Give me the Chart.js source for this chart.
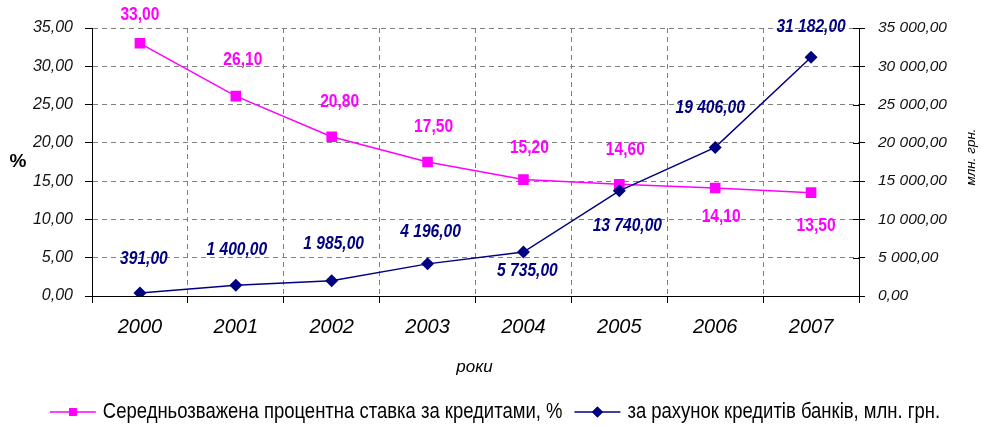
<!DOCTYPE html>
<html lang="uk">
<head>
<meta charset="UTF-8">
<title>Процентна ставка та кредити банків</title>
<script src="https://cdn.jsdelivr.net/npm/chart.js"></script>
<style>
  html, body { margin: 0; padding: 0; background: #fff; }
  #wrap { width: 981px; height: 427px; }
</style>
</head>
<body>
<div id="wrap"><canvas id="chart" width="981" height="427"></canvas></div>
<script>
// chart data
const years = ['2000', '2001', '2002', '2003', '2004', '2005', '2006', '2007'];
const rateValues = [33.0, 26.1, 20.8, 17.5, 15.2, 14.6, 14.1, 13.5];
const creditValues = [391, 1400, 1985, 4196, 5735, 13740, 19406, 31182];
const rateName = 'Середньозважена процентна ставка за кредитами, %';
const creditName = 'за рахунок кредитів банків, млн. грн.';

// where each value label sits relative to its point
const rateLabelShift = [[0, -29], [7, -36], [8, -35], [6, -35], [6, -32], [6, -34], [6, 29], [5, 33]];
const creditLabelShift = [[4, -34], [1, -36], [2, -37], [3, -32], [4, 19], [8, 35], [-5, -40], [0, -30]];

const MAGENTA = '#ff00ff';
const NAVY = '#000080';
const NARROW = 0.82;

function fmt(v) {
    const parts = Number(v).toFixed(2).split('.');
    return parts[0].replace(/\B(?=(\d{3})+(?!\d))/g, ' ') + ',' + parts[1];
}

function narrowText(ctx, text, x, y, font, color, align, sx) {
    ctx.save();
    ctx.font = font;
    ctx.fillStyle = color;
    ctx.textAlign = align || 'center';
    ctx.textBaseline = 'middle';
    ctx.translate(x, y);
    ctx.scale(sx || NARROW, 1);
    ctx.fillText(text, 0, 0);
    ctx.restore();
}

const extras = {
    id: 'extras',
    beforeDraw(chart) {
        const ctx = chart.ctx;
        ctx.save();
        ctx.fillStyle = '#fff';
        ctx.fillRect(0, 0, chart.width, chart.height);
        ctx.restore();
    },
    afterDatasetsDraw(chart) {
        const ctx = chart.ctx;
        // value labels
        chart.getDatasetMeta(1).data.forEach((pt, i) => {
            const s = rateLabelShift[i];
            narrowText(ctx, fmt(rateValues[i]), pt.x + s[0], pt.y + s[1], 'bold 19px "Liberation Sans", Arial', MAGENTA);
        });
        chart.getDatasetMeta(0).data.forEach((pt, i) => {
            const s = creditLabelShift[i];
            narrowText(ctx, fmt(creditValues[i]), pt.x + s[0], pt.y + s[1], 'italic bold 19px "Liberation Sans", Arial', NAVY);
        });
    },
    afterDraw(chart) {
        const ctx = chart.ctx;
        const area = chart.chartArea;

        // right axis ticks also cross into the plot
        const right = chart.scales.yRight;
        ctx.save();
        ctx.strokeStyle = '#000';
        ctx.lineWidth = 1;
        right.ticks.forEach(t => {
            const py = Math.round(right.getPixelForValue(t.value)) + 0.5;
            ctx.beginPath();
            ctx.moveTo(area.right - 6, py);
            ctx.lineTo(area.right, py);
            ctx.stroke();
        });
        ctx.restore();

        // axis titles
        ctx.save();
        ctx.fillStyle = '#000';
        ctx.textAlign = 'center';
        ctx.textBaseline = 'middle';
        ctx.font = 'bold 19px "Liberation Sans", Arial';
        ctx.fillText('%', 18, (area.top + area.bottom) / 2);
        ctx.font = 'italic 17px "Liberation Sans", Arial';
        ctx.fillText('роки', (area.left + area.right) / 2 - 1, area.bottom + 71);
        ctx.font = 'italic 13.5px "Liberation Sans", Arial';
        ctx.translate(971, 157);
        ctx.rotate(-Math.PI / 2);
        ctx.fillText('млн. грн.', 0, 0);
        ctx.restore();

        // legend
        const font = '22px "Liberation Sans", Arial';
        const legendScale = 0.84;
        ctx.save();
        ctx.font = font;
        const w1 = ctx.measureText(rateName).width * legendScale;
        const w2 = ctx.measureText(creditName).width * legendScale;
        ctx.restore();
        const lineLen = 46, gap = 7, between = 12;
        const total = lineLen + gap + w1 + between + lineLen + gap + w2;
        let x = 495 - total / 2;
        const y = 412;
        const items = [
            { name: rateName, color: MAGENTA, shape: 'rect', w: w1 },
            { name: creditName, color: NAVY, shape: 'rectRot', w: w2 }
        ];
        items.forEach(it => {
            ctx.save();
            ctx.strokeStyle = it.color;
            ctx.lineWidth = 1.5;
            ctx.beginPath();
            ctx.moveTo(x, y);
            ctx.lineTo(x + lineLen, y);
            ctx.stroke();
            ctx.fillStyle = it.color;
            Chart.helpers.drawPoint(ctx, { pointStyle: it.shape, radius: 5.5, borderWidth: 0 }, x + lineLen / 2, y);
            ctx.fill();
            ctx.restore();
            narrowText(ctx, it.name, x + lineLen + gap, y, font, '#000', 'left', legendScale);
            x += lineLen + gap + it.w + between;
        });
    }
};

const tickFont = { family: '"Liberation Sans", Arial', size: 16, style: 'italic' };

new Chart(document.getElementById('chart'), {
    type: 'line',
    data: {
        labels: years,
        datasets: [
            {
                label: creditName,
                data: creditValues,
                yAxisID: 'yRight',
                borderColor: NAVY,
                backgroundColor: NAVY,
                borderWidth: 1.5,
                pointStyle: 'rectRot',
                pointRadius: 6.5,
                pointBorderWidth: 0,
                tension: 0,
                order: 0
            },
            {
                label: rateName,
                data: rateValues,
                yAxisID: 'yLeft',
                borderColor: MAGENTA,
                backgroundColor: MAGENTA,
                borderWidth: 1.5,
                pointStyle: 'rect',
                pointRadius: 7.5,
                pointBorderWidth: 0,
                tension: 0,
                order: 1
            }
        ]
    },
    options: {
        responsive: false,
        animation: false,
        layout: { padding: { top: 28 } },
        plugins: {
            legend: { display: false },
            tooltip: { enabled: false }
        },
        scales: {
            x: {
                offset: true,
                grid: {
                    offset: true,
                    color: '#808080',
                    lineWidth: 1,
                    tickColor: '#000',
                    tickLength: 7
                },
                border: { color: '#000', width: 1, dash: [5, 4] },
                ticks: {
                    color: '#000',
                    font: { family: '"Liberation Sans", Arial', size: 20, style: 'italic' },
                    padding: 12,
                    maxRotation: 0
                },
                afterFit(scale) { scale.height = 131; }
            },
            yLeft: {
                position: 'left',
                min: 0,
                max: 35,
                ticks: {
                    stepSize: 5,
                    color: '#111',
                    font: tickFont,
                    padding: 12,
                    callback: v => fmt(v)
                },
                grid: {
                    color: '#808080',
                    lineWidth: 1,
                    tickColor: '#000',
                    tickLength: 7
                },
                border: { color: '#000', width: 1, dash: [5, 4] },
                afterFit(scale) { scale.width = 92; }
            },
            yRight: {
                position: 'right',
                min: 0,
                max: 35000,
                ticks: {
                    stepSize: 5000,
                    color: '#111',
                    font: { family: '"Liberation Sans", Arial', size: 15.5, style: 'italic' },
                    padding: 13,
                    callback: v => fmt(v)
                },
                grid: {
                    drawOnChartArea: false,
                    tickColor: '#000',
                    tickLength: 6
                },
                border: { color: '#000', width: 1 },
                afterFit(scale) { scale.width = 122; }
            }
        }
    },
    plugins: [extras]
});
</script>
</body>
</html>
